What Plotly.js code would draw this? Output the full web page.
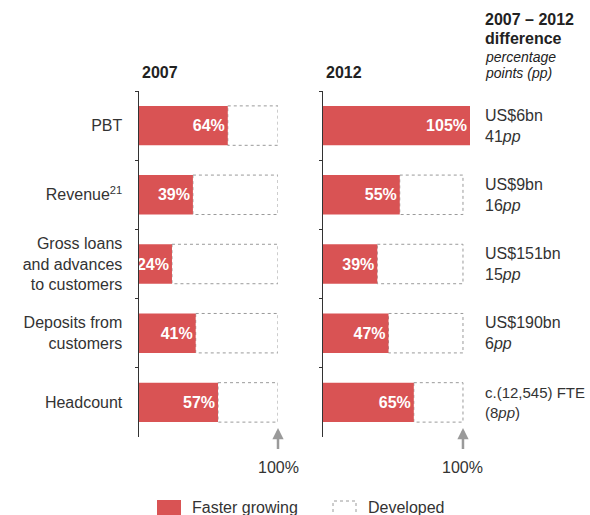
<!DOCTYPE html>
<html>
<head>
<meta charset="utf-8">
<script src="https://cdn.plot.ly/plotly-3.0.1.min.js"></script>
<style>
  html, body { margin: 0; padding: 0; background: #fff; }
  #chart { width: 590px; height: 515px; }
</style>
</head>
<body>
<div id="chart"></div>
<script>
// categorias e valores
const categories = [
  'PBT',
  'Revenue<sup>21</sup>',
  'Gross loans<br>and advances<br>to customers',
  'Deposits from<br>customers',
  'Headcount'
];
const share2007 = [64, 39, 24, 41, 57];
const share2012 = [105, 55, 39, 47, 65];
const diffAmount = ['US$6bn', 'US$9bn', 'US$151bn', 'US$190bn', 'c.(12,545) FTE'];
const diffPoints = ['41<i>pp</i>', '16<i>pp</i>', '15<i>pp</i>', '6<i>pp</i>', '(8<i>pp</i>)'];
const fullShare = 100;

const RED = '#d95354';
const TEXT = '#333';
const DOT = '#9a9a9a';
const FONT = 'Liberation Sans, Arial, sans-serif';
const W = 590, H = 515;
const BAR_W = 0.57;

const px = v => v / W;
const py = v => 1 - v / H;

function barTrace(values, xa, ya) {
  return {
    type: 'bar',
    orientation: 'h',
    x: values,
    y: categories,
    xaxis: xa,
    yaxis: ya,
    width: BAR_W,
    marker: { color: RED },
    text: values.map(v => v + '%'),
    textposition: 'inside',
    insidetextanchor: 'end',
    textangle: 0,
    constraintext: 'none',
    textfont: { color: '#fff', size: 16, family: FONT, weight: 700 },
    cliponaxis: false,
    hoverinfo: 'skip',
    showlegend: false
  };
}

// caixas pontilhadas da parte "Developed"
function developedBoxes(values, xref, yref) {
  return values
    .map((v, i) => ({ v, i }))
    .filter(d => d.v < fullShare)
    .map(d => ({
      type: 'rect', xref, yref, layer: 'below',
      x0: d.v, x1: fullShare,
      y0: d.i - BAR_W / 2, y1: d.i + BAR_W / 2,
      fillcolor: '#fff',
      line: { color: DOT, width: 1, dash: 'dot' }
    }));
}

const yBase = {
  type: 'category',
  categoryorder: 'array',
  categoryarray: categories,
  range: [4.5, -0.5],
  domain: [py(437), py(91)],
  showline: true,
  linecolor: TEXT,
  linewidth: 1,
  ticks: 'outside',
  tickson: 'boundaries',
  ticklen: 3,
  tickcolor: TEXT,
  showgrid: false,
  zeroline: false,
  fixedrange: true
};

const layout = {
  width: W,
  height: H,
  margin: { l: 0, r: 0, t: 0, b: 0 },
  paper_bgcolor: '#fff',
  plot_bgcolor: 'rgba(0,0,0,0)',
  font: { family: FONT, size: 16, color: TEXT },
  showlegend: false,
  xaxis: { domain: [px(138.5), px(278)], range: [0, 100], visible: false, anchor: 'y', fixedrange: true },
  xaxis2: { domain: [px(322.5), px(470)], range: [0, 105], visible: false, anchor: 'y2', fixedrange: true },
  yaxis: Object.assign({}, yBase, {
    anchor: 'x',
    tickfont: { size: 16, color: TEXT, family: FONT },
    ticklabelstandoff: 12
  }),
  yaxis2: Object.assign({}, yBase, { anchor: 'x2', showticklabels: false }),
  shapes: [
    ...developedBoxes(share2007, 'x', 'y'),
    ...developedBoxes(share2012, 'x2', 'y2'),
    // legenda manual
    { type: 'rect', xref: 'paper', yref: 'paper', x0: px(157), x1: px(181), y0: py(519), y1: py(500),
      fillcolor: RED, line: { width: 0 } },
    { type: 'rect', xref: 'paper', yref: 'paper', x0: px(333), x1: px(356), y0: py(519), y1: py(501),
      fillcolor: '#fff', line: { color: DOT, width: 1, dash: 'dot' } }
  ],
  annotations: []
};

const ann = layout.annotations;

// títulos dos painéis
ann.push({ xref: 'paper', yref: 'paper', x: px(140), y: py(72), xanchor: 'left', yanchor: 'middle',
  text: '<b>2007</b>', showarrow: false, font: { size: 16, color: '#222' } });
ann.push({ xref: 'paper', yref: 'paper', x: px(324), y: py(72), xanchor: 'left', yanchor: 'middle',
  text: '<b>2012</b>', showarrow: false, font: { size: 16, color: '#222' } });

// cabeçalho da coluna de diferença
const headLines = [
  { t: '<b>2007 – 2012</b>', y: 19, s: 16 },
  { t: '<b>difference</b>', y: 38, s: 16 },
  { t: '<i>percentage</i>', y: 57, s: 14 },
  { t: '<i>points (pp)</i>', y: 73, s: 14 }
];
headLines.forEach(h => ann.push({
  xref: 'paper', yref: 'paper', x: px(483), y: py(h.y), xanchor: 'left', yanchor: 'middle',
  text: h.t, showarrow: false, font: { size: h.s, color: '#222' }
}));

// coluna de diferenças
categories.forEach((c, i) => ann.push({
  xref: 'paper', yref: 'y2', x: px(483), y: i, xanchor: 'left', yanchor: 'middle', align: 'left',
  text: diffAmount[i] + '<br>' + diffPoints[i], showarrow: false,
  font: { size: diffAmount[i].length > 10 ? 15 : 16, color: TEXT }
}));

// setas de 100%
[['x', 'y'], ['x2', 'y2']].forEach(([xr, yr]) => ann.push({
  xref: xr, yref: 'paper', x: fullShare, y: py(428), ax: 0, ay: 39,
  text: '100%', showarrow: true, arrowhead: 2, arrowsize: 0.9, arrowwidth: 2.5,
  arrowcolor: DOT, borderpad: 9, font: { size: 16, color: TEXT }
}));

// textos da legenda
ann.push({ xref: 'paper', yref: 'paper', x: px(190), y: py(507), xanchor: 'left', yanchor: 'middle',
  text: 'Faster growing', showarrow: false, font: { size: 16, color: TEXT } });
ann.push({ xref: 'paper', yref: 'paper', x: px(366), y: py(507), xanchor: 'left', yanchor: 'middle',
  text: 'Developed', showarrow: false, font: { size: 16, color: TEXT } });

const traces = [
  barTrace(share2007, 'x', 'y'),
  barTrace(share2012, 'x2', 'y2')
];

Plotly.newPlot('chart', traces, layout, { displayModeBar: false, staticPlot: true });
</script>
</body>
</html>
